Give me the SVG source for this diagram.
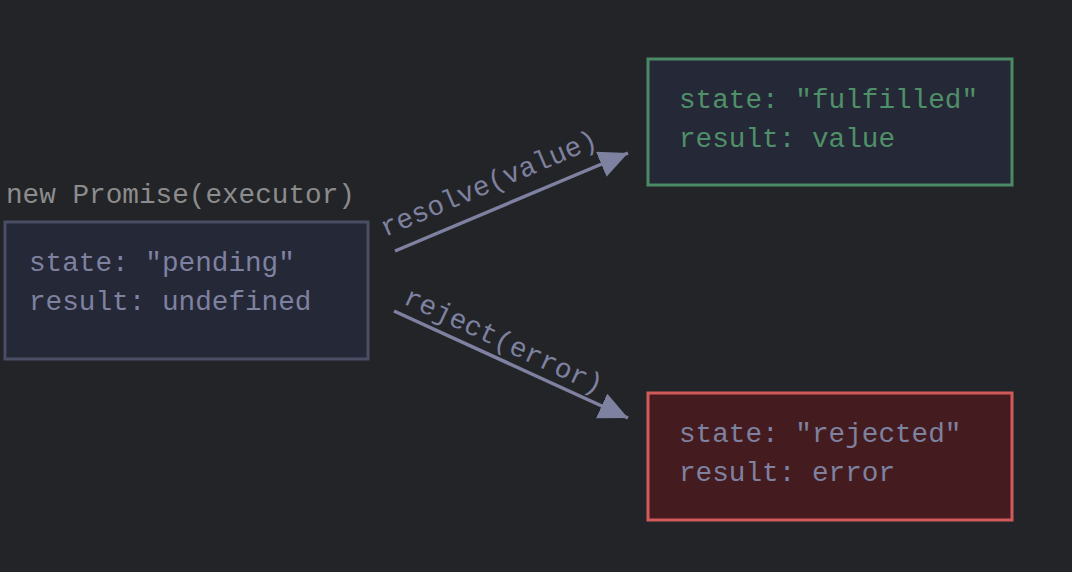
<svg xmlns="http://www.w3.org/2000/svg" width="1072" height="572" viewBox="0 0 1072 572">
<style>
.t{font-family:"Liberation Mono","DejaVu Sans Mono",monospace;font-size:27.7px}
.muted{fill:#7e819f}
.green{fill:#4f9068}
.title{fill:#8c8c8c}
.edge{stroke:#7e819f;stroke-width:3.5;fill:none}
</style>
<defs>
<marker id="ah" markerUnits="userSpaceOnUse" markerWidth="32" markerHeight="30" refX="29" refY="13.5" orient="auto">
<path d="M0,0 L29,13.5 L0,27 z" fill="#7e819f"/>
</marker>
</defs>
<rect width="1072" height="572" fill="#232428"/>
<g id="pending">
<text class="t title" x="6" y="203">new Promise(executor)</text>
<rect x="5" y="222" width="363" height="137" fill="#252837" stroke="#4a4d63" stroke-width="3"/>
<text class="t muted" x="29" y="271">state: "pending"</text>
<text class="t muted" x="29" y="310">result: undefined</text>
</g>
<g id="fulfilled">
<rect x="648" y="59" width="364" height="126" fill="#252837" stroke="#4a8a64" stroke-width="3"/>
<text class="t green" x="679" y="108">state: "fulfilled"</text>
<text class="t green" x="679" y="147">result: value</text>
</g>
<g id="rejected">
<rect x="648" y="393" width="364" height="127" fill="#441c1f" stroke="#d35a5c" stroke-width="3"/>
<text class="t muted" x="679" y="442">state: "rejected"</text>
<text class="t muted" x="679" y="481">result: error</text>
</g>
<g id="connectors">
<line class="edge" x1="395" y1="251" x2="628" y2="153" marker-end="url(#ah)"/>
<text class="t muted" x="385" y="237" transform="rotate(-23 385 237)">resolve(value)</text>
<line class="edge" x1="394" y1="311" x2="628" y2="418" marker-end="url(#ah)"/>
<text class="t muted" x="402" y="303" transform="rotate(25 402 303)">reject(error)</text>
</g>
</svg>
